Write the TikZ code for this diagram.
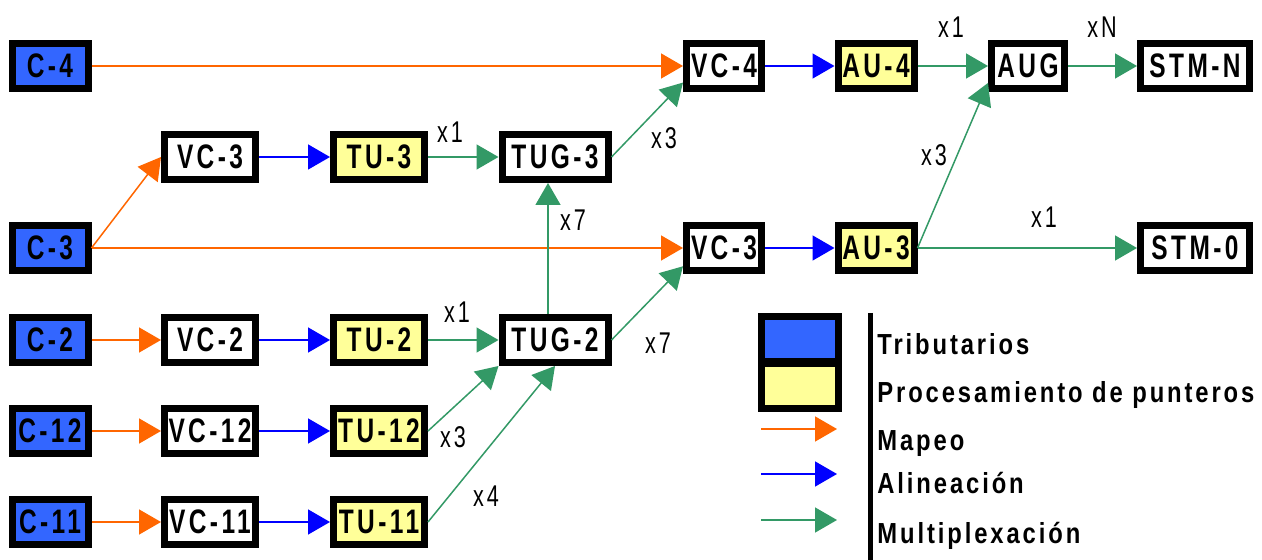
\documentclass[tikz,border=0pt]{standalone}
\usepackage{fontspec}
\setmainfont{Liberation Sans}
\newfontfamily\boxfont[FakeStretch=0.72,LetterSpace=10]{Liberation Sans}
\newfontfamily\legfont[FakeStretch=0.82,LetterSpace=10]{Liberation Sans}
\usetikzlibrary{arrows.meta}
\definecolor{tribblue}{HTML}{3366FF}
\definecolor{ptryellow}{HTML}{FFFF99}
\definecolor{maporange}{HTML}{FF6600}
\definecolor{alnblue}{HTML}{0000FF}
\definecolor{muxgreen}{HTML}{339966}
\begin{document}
\begin{tikzpicture}[x=0.5pt,y=-0.5pt,
    box/.style={draw,line width=3.5pt,inner sep=0pt,minimum height=22.5pt,
      font=\boxfont\bfseries\fontsize{17}{17}\selectfont},
    trib/.style={box,fill=tribblue},
    ptr/.style={box,fill=ptryellow},
    cont/.style={box,fill=white},
    mult/.style={inner sep=0pt,font=\boxfont\fontsize{15}{15}\selectfont},
    leg/.style={inner sep=0pt,anchor=base west,font=\legfont\bfseries\fontsize{14.5}{14.5}\selectfont},
    tip/.style={-{Triangle[length=11pt,width=12.5pt]},line width=0.75pt},
    mapeo/.style={tip,draw=maporange},
    alin/.style={tip,draw=alnblue},
    mux/.style={tip,draw=muxgreen}]
  \useasboundingbox (0,0) rectangle (1262,560);
  \draw
    (50,66) node[trib,minimum width=38pt] (c4){C-4}
    (50,248) node[trib,minimum width=38pt] (c3){C-3}
    (50,340) node[trib,minimum width=38pt] (c2){C-2}
    (50,431) node[trib,minimum width=38pt] (c12){C-12}
    (50,522) node[trib,minimum width=38pt] (c11){C-11}
    (210,157) node[cont,minimum width=45.5pt] (vc3a){VC-3}
    (210,340) node[cont,minimum width=45.5pt] (vc2){VC-2}
    (210,431) node[cont,minimum width=45.5pt] (vc12){VC-12}
    (210,522) node[cont,minimum width=45.5pt] (vc11){VC-11}
    (379,157) node[ptr,minimum width=45.5pt] (tu3){TU-3}
    (379,340) node[ptr,minimum width=45.5pt] (tu2){TU-2}
    (379,431) node[ptr,minimum width=45.5pt] (tu12){TU-12}
    (379,522) node[ptr,minimum width=45.5pt] (tu11){TU-11}
    (555,157) node[cont,minimum width=53pt] (tug3){TUG-3}
    (555,340) node[cont,minimum width=53pt] (tug2){TUG-2}
    (724,66) node[cont,minimum width=37.5pt] (vc4){VC-4}
    (724,248) node[cont,minimum width=37.5pt] (vc3b){VC-3}
    (876,66) node[ptr,minimum width=38pt] (au4){AU-4}
    (876,248) node[ptr,minimum width=38pt] (au3){AU-3}
    (1028,66) node[cont,minimum width=36.5pt] (aug){AUG}
    (1195,66) node[cont,minimum width=54.5pt] (stmn){STM-N}
    (1195,248) node[cont,minimum width=54.5pt] (stm0){STM-0};
  % multiplicidades
  \draw
    (450,132) node[mult] (m1){x1}
    (664,138) node[mult] (m2){x3}
    (573,220) node[mult] (m3){x7}
    (457,312) node[mult] (m4){x1}
    (658,343) node[mult] (m5){x7}
    (453,437) node[mult] (m6){x3}
    (486,496) node[mult] (m7){x4}
    (951,27) node[mult] (m8){x1}
    (1102,27) node[mult] (m9){xN}
    (934,155) node[mult] (m10){x3}
    (1044,217) node[mult] (m11){x1};
  \begin{scope}[mapeo]
    \draw (c4) to (vc4);
    \draw (c3.east) to (vc3a.west);
    \draw (c3.east) to (vc3b.west);
    \draw (c2) to (vc2);
    \draw (c12) to (vc12);
    \draw (c11) to (vc11);
  \end{scope}
  \begin{scope}[alin]
    \draw (vc3a) to (tu3);
    \draw (vc2) to (tu2);
    \draw (vc12) to (tu12);
    \draw (vc11) to (tu11);
    \draw (vc4) to (au4);
    \draw (vc3b) to (au3);
  \end{scope}
  \begin{scope}[mux]
    \draw (tu3) to (tug3);
    \draw (tu2) to (tug2);
    \draw (tu12.east) to (tug2.south west);
    \draw (tu11.east) to (tug2.south);
    \draw ([xshift=-3.5pt]tug2.north) to ([xshift=-3.5pt]tug3.south);
    \draw (tug3.east) to (vc4.202);
    \draw (tug2.east) to (vc3b.204);
    \draw (au4) to (aug);
    \draw (aug) to (stmn);
    \draw (au3.east) to (aug.203);
    \draw (au3) to (stm0);
  \end{scope}
  % leyenda
  \draw
    (800,339) node[trib,minimum width=38.5pt] (ltrib){}
    (800,386) node[ptr,minimum width=38.5pt] (lptr){};
  \coordinate (lmap0) at (761,429);
  \coordinate (lmap1) at (837,429);
  \coordinate (laln0) at (761,474);
  \coordinate (laln1) at (837,474);
  \coordinate (lmux0) at (761,520);
  \coordinate (lmux1) at (837,520);
  \coordinate (bar0) at (870,313);
  \coordinate (bar1) at (870,560);
  \draw[mapeo] (lmap0) to (lmap1);
  \draw[alin] (laln0) to (laln1);
  \draw[mux] (lmux0) to (lmux1);
  \draw[line width=2.5pt] (bar0) to (bar1);
  \draw
    (877,355) node[leg] (t1){Tributarios}
    (877,403) node[leg] (t2){Procesamiento de punteros}
    (877,451) node[leg] (t3){Mapeo}
    (877,494) node[leg] (t4){Alineación}
    (877,543) node[leg] (t5){Multiplexación};
\end{tikzpicture}
\end{document}
